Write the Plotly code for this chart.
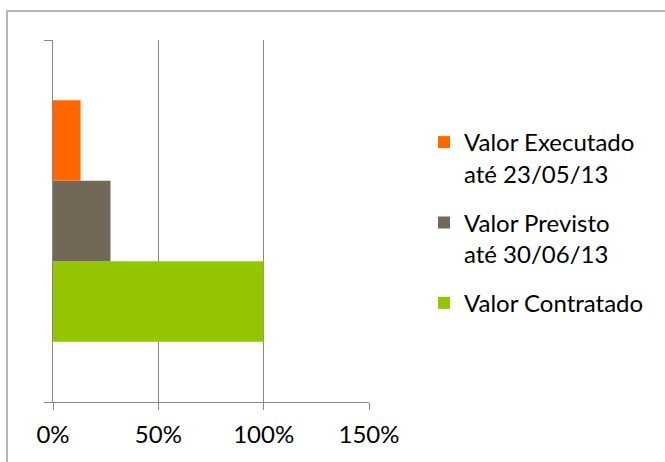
import plotly.graph_objects as go

# Share of contracted value reached by each milestone
categories = ["Valor"]
series_names = [
    "Valor Contratado",
    "Valor Previsto<br>até 30/06/13",
    "Valor Executado<br>até 23/05/13",
]
series_values = [1.00, 0.273, 0.131]
series_colors = ["#93C500", "#726858", "#FF6600"]
legend_ranks = [3, 2, 1]

x_ticks = [0, 0.5, 1.0, 1.5]

fig = go.Figure()
for name, value, color, rank in zip(series_names, series_values, series_colors, legend_ranks):
    fig.add_trace(go.Bar(
        y=categories,
        x=[value],
        name=name,
        legendgroup=name,
        legendrank=rank,
        orientation="h",
        marker=dict(color=color, line=dict(width=0)),
    ))

grid_color = "#888888"
font_family = "Lato, 'Open Sans', sans-serif"

fig.update_layout(
    width=665,
    height=462,
    margin=dict(l=53, r=296, t=40, b=60),
    paper_bgcolor="white",
    plot_bgcolor="white",
    barmode="group",
    bargap=1 / 3,
    bargroupgap=0,
    font=dict(family=font_family, size=24, color="#000000"),
    xaxis=dict(
        range=[0, 1.5],
        tickvals=x_ticks,
        tickformat=".0%",
        showgrid=True,
        gridcolor=grid_color,
        gridwidth=1.4,
        zeroline=False,
        showline=True,
        linecolor=grid_color,
        linewidth=1.4,
        ticks="outside",
        ticklen=7,
        tickwidth=1.4,
        tickcolor=grid_color,
        ticklabelstandoff=4,
        tickfont=dict(family=font_family, size=24, color="#000000"),
        fixedrange=True,
    ),
    yaxis=dict(
        type="category",
        range=[-0.5, 0.5],
        showticklabels=False,
        showgrid=False,
        zeroline=False,
        showline=True,
        linecolor=grid_color,
        linewidth=1.4,
        ticks="outside",
        tickson="boundaries",
        ticklen=8,
        tickwidth=1.4,
        tickcolor=grid_color,
        fixedrange=True,
    ),
    legend=dict(
        traceorder="grouped",
        x=1.174,
        xanchor="left",
        xref="paper",
        y=0.779,
        yanchor="top",
        valign="top",
        font=dict(family=font_family, size=24, color="#000000"),
        tracegroupgap=15,
        bgcolor="rgba(0,0,0,0)",
        borderwidth=0,
    ),
    shapes=[
        # outer chart frame, running off the right and bottom edges
        dict(
            type="rect", xref="paper", yref="paper",
            x0=-0.1456, x1=2.0, y0=-0.5, y1=1.080,
            line=dict(color="#a0a0a0", width=1.5),
            fillcolor="rgba(0,0,0,0)",
            layer="below",
        ),
    ],
)

fig.write_html("out.html", config={"displayModeBar": False})
